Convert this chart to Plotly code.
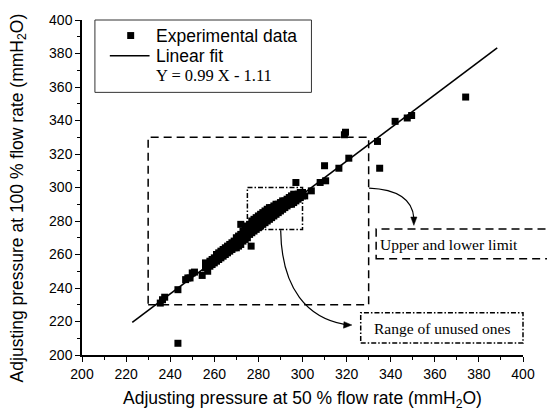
import plotly.graph_objects as go

# ---------------- data ----------------
# dense band of experimental points (50 % flow -> 100 % flow)
band_x = [256, 256, 257, 257, 258, 258, 259, 259, 260, 260, 261, 261, 262, 262,
          263, 263, 264, 264, 265, 265, 266, 266, 267, 267, 268, 268, 269, 269,
          270, 270, 270, 271, 271, 271, 272, 272, 272, 273, 273, 273, 274, 274, 274,
          275, 275, 275, 276, 276, 276, 277, 277, 277, 278, 278, 278, 279, 279, 279,
          280, 280, 280, 281, 281, 281, 282, 282, 282, 283, 283, 283, 284, 284, 284,
          285, 285, 285, 286, 286, 286, 287, 287, 287, 288, 288, 288, 289, 289, 289,
          290, 290, 290, 291, 291, 291, 292, 292, 292, 293, 293, 293, 294, 294, 294,
          295, 295, 295, 296, 296, 296,
          297, 297, 298, 298, 299, 299, 300, 300, 301]
band_y = [252, 255, 250, 254, 253, 256, 254, 257, 255, 258, 256, 260, 257, 261,
          258, 262, 259, 263, 260, 264, 261, 265, 262, 266, 263, 267, 264, 268,
          264, 267, 270, 265, 268, 271, 266, 269, 272, 268, 271, 274, 269, 272, 276,
          270, 274, 277, 272, 275, 278, 273, 276, 280, 274, 277, 281, 275, 279, 282,
          276, 280, 283, 277, 281, 284, 278, 282, 285, 279, 283, 286, 280, 284, 287,
          281, 285, 288, 282, 286, 288, 283, 287, 289, 284, 287, 290, 285, 288, 290,
          286, 289, 291, 287, 290, 292, 288, 290, 292, 289, 291, 293, 290, 292, 294,
          290, 293, 295, 291, 294, 296,
          292, 295, 293, 296, 294, 297, 295, 297, 295]

# sparse / outlying experimental points
sparse_x = [235.5, 236.5, 237.5, 243.5, 243.5, 247.0, 248.0, 249.0, 250.0, 251.0,
            254.5, 272.0, 276.7, 297.0, 304.0, 308.0, 310.5, 310.0, 316.5, 321.0,
            319.0, 319.5, 334.0, 335.0, 342.0, 347.5, 349.5, 374.0]
sparse_y = [231.0, 233.0, 234.5, 239.0, 207.0, 245.0, 246.0, 246.0, 249.0, 249.5,
            247.5, 278.0, 265.0, 303.0, 298.0, 303.0, 304.0, 313.0, 311.5, 317.5,
            331.5, 333.0, 327.5, 311.5, 339.5, 341.5, 343.0, 354.0]

exp_x = band_x + sparse_x
exp_y = band_y + sparse_y

fit_slope = 0.99
fit_intercept = -1.11
fit_x = [222.8, 388.3]
fit_y = [fit_slope * v + fit_intercept for v in fit_x]

x_ticks = [200, 220, 240, 260, 280, 300, 320, 340, 360, 380, 400]
y_ticks = [200, 220, 240, 260, 280, 300, 320, 340, 360, 380, 400]

limit_box = [230, 330, 230, 330]      # x0, x1, y0, y1
unused_box = [275, 300, 275, 300]

legend_labels = ["Experimental data", "Linear fit", "Y = 0.99 X - 1.11"]
note_labels = ["Upper and lower limit", "Range of unused ones"]

x_title = "Adjusting pressure at 50 % flow rate (mmH<sub>2</sub>O)"
y_title = "Adjusting pressure at 100 % flow rate (mmH<sub>2</sub>O)"

# ---------------- figure ----------------
SANS = "Liberation Sans, Arial, sans-serif"
SERIF = "Liberation Serif, Times New Roman, serif"

fig = go.Figure()
fig.add_trace(go.Scatter(x=exp_x, y=exp_y, mode="markers", name=legend_labels[0],
                         marker=dict(symbol="square", size=7, color="black",
                                     line=dict(width=0))))
fig.add_trace(go.Scatter(x=fit_x, y=fit_y, mode="lines", name=legend_labels[1],
                         line=dict(color="black", width=1.6)))

shapes = []
# dashed limit box
shapes.append(dict(type="rect", xref="x", yref="y",
                   x0=limit_box[0], x1=limit_box[1], y0=limit_box[2], y1=limit_box[3],
                   line=dict(color="black", width=1.5, dash="8px,5px")))
# dash-dot unused box
shapes.append(dict(type="rect", xref="x", yref="y",
                   x0=unused_box[0], x1=unused_box[1], y0=unused_box[2], y1=unused_box[3],
                   line=dict(color="black", width=1.5, dash="5px,2px,1.5px,2px")))
# curved connectors
shapes.append(dict(type="path", xref="x", yref="y",
                   path="M 330.2 299.6 Q 349.5 298.5 350.5 281.8",
                   line=dict(color="black", width=1.2)))
shapes.append(dict(type="path", xref="x", yref="y",
                   path="M 290.1 274.5 C 290.5 238.7, 302.7 222.2, 319.0 218.3",
                   line=dict(color="black", width=1.2)))
# arrow heads
shapes.append(dict(type="path", xref="x", yref="y",
                   path="M 350.5 277.4 L 349.1 282.4 L 351.9 282.4 Z",
                   fillcolor="black", line=dict(color="black", width=0.5)))
shapes.append(dict(type="path", xref="x", yref="y",
                   path="M 322.4 217.9 L 318.6 216.0 L 318.8 219.9 Z",
                   fillcolor="black", line=dict(color="black", width=0.5)))
# label boxes (paper coords)
shapes.append(dict(type="rect", xref="paper", yref="paper",
                   x0=0.667, x1=1.12, y0=0.287, y1=0.376,
                   line=dict(color="black", width=1.5, dash="8px,5px")))
shapes.append(dict(type="rect", xref="paper", yref="paper",
                   x0=0.632, x1=1.0, y0=0.036, y1=0.126,
                   line=dict(color="black", width=1.5, dash="5px,2px,1.5px,2px")))
# legend frame
shapes.append(dict(type="rect", xref="paper", yref="paper",
                   x0=0.0293, x1=0.5203, y0=0.784, y1=1.0,
                   line=dict(color="#333", width=1)))
# legend symbols
shapes.append(dict(type="rect", xref="paper", yref="paper",
                   x0=0.1104 - 0.0079, x1=0.1104 + 0.0079,
                   y0=0.9536 - 0.0104, y1=0.9536 + 0.0104,
                   fillcolor="black", line=dict(width=0)))
shapes.append(dict(type="line", xref="paper", yref="paper",
                   x0=0.0631, x1=0.1532, y0=0.8935, y1=0.8935,
                   line=dict(color="black", width=1.6)))

annotations = [
    dict(xref="paper", yref="paper", x=0.164, y=0.9536, xanchor="left", yanchor="middle",
         text=legend_labels[0], showarrow=False, font=dict(family=SANS, size=17.5, color="black")),
    dict(xref="paper", yref="paper", x=0.164, y=0.8935, xanchor="left", yanchor="middle",
         text=legend_labels[1], showarrow=False, font=dict(family=SANS, size=17.5, color="black")),
    dict(xref="paper", yref="paper", x=0.164, y=0.834, xanchor="left", yanchor="middle",
         text=legend_labels[2], showarrow=False, font=dict(family=SERIF, size=16.5, color="black")),
    dict(xref="paper", yref="paper", x=0.833, y=0.331, xanchor="center", yanchor="middle",
         text=note_labels[0], showarrow=False, font=dict(family=SERIF, size=15.5, color="black")),
    dict(xref="paper", yref="paper", x=0.8164, y=0.080, xanchor="center", yanchor="middle",
         text=note_labels[1], showarrow=False, font=dict(family=SERIF, size=15.5, color="black")),
    # axis titles
    dict(xref="paper", yref="paper", x=0.5, y=-0.133, xanchor="center", yanchor="middle",
         text=x_title, showarrow=False, font=dict(family=SANS, size=17.5, color="black")),
    dict(xref="paper", yref="paper", x=-0.144, y=0.469, xanchor="center", yanchor="middle",
         text=y_title, textangle=-90, showarrow=False,
         font=dict(family=SANS, size=17.5, color="black")),
]

axis_common = dict(
    showline=True, linecolor="black", linewidth=1.5, mirror=False,
    ticks="outside", ticklen=5, tickwidth=1.3, tickcolor="black",
    showgrid=False, zeroline=False,
    tickfont=dict(family=SANS, size=14, color="black"),
    minor=dict(ticks="outside", ticklen=3, tickwidth=1, tickcolor="black", dtick=10),
)

fig.update_xaxes(range=[200, 400], tickvals=x_ticks, ticktext=[str(v) for v in x_ticks],
                 **axis_common)
fig.update_yaxes(range=[200, 400], tickvals=y_ticks, ticktext=[str(v) for v in y_ticks],
                 **axis_common)

fig.update_layout(
    width=547, height=411,
    margin=dict(l=82, r=21, t=17, b=56),
    paper_bgcolor="white", plot_bgcolor="white",
    showlegend=False,
    shapes=shapes, annotations=annotations,
)

fig.write_html("out.html")
